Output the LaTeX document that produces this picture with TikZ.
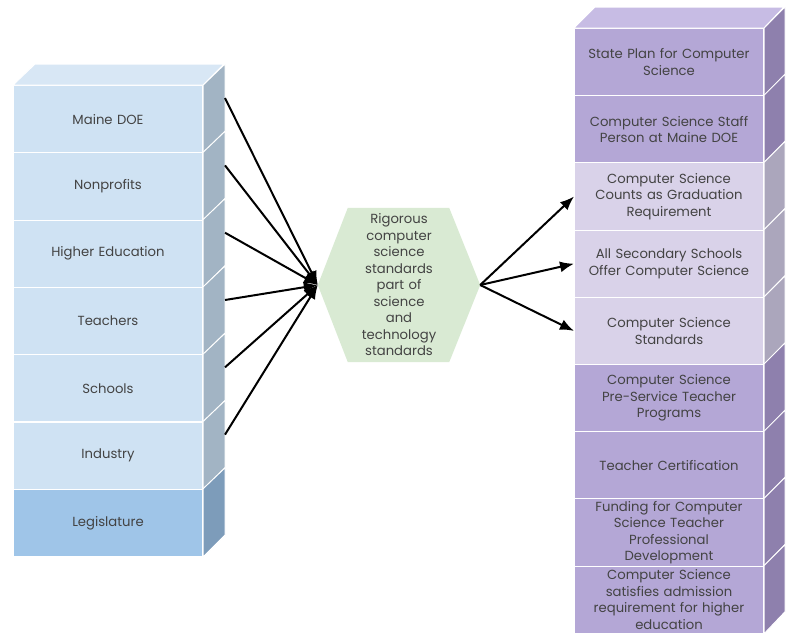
\documentclass[tikz,border=0pt]{standalone}
\usepackage{fontspec}
\setmainfont{Poppins}
\usetikzlibrary{arrows.meta,positioning,calc,backgrounds}
\definecolor{BlueFront}{HTML}{CFE2F3}
\definecolor{BlueSide}{HTML}{A2B4C4}
\definecolor{BlueTop}{HTML}{D8E7F5}
\definecolor{LegFront}{HTML}{9FC5E8}
\definecolor{LegSide}{HTML}{7D9CBA}
\definecolor{PurpleFront}{HTML}{B4A7D6}
\definecolor{PurpleSide}{HTML}{8E80AD}
\definecolor{LilacFront}{HTML}{D9D2E9}
\definecolor{LilacSide}{HTML}{ABA6BC}
\definecolor{PurpleTop}{HTML}{C7BCE4}
\definecolor{HexGreen}{HTML}{D9EAD3}
\definecolor{LabelGray}{HTML}{434343}

\begin{document}
\begin{tikzpicture}[x=1pt, y=-1pt,
    block/.style={draw=white, line width=1pt, minimum width=189pt, minimum height=67.2pt, inner sep=0pt, text width=189pt, align=center, anchor=north west, text=LabelGray, font=\fontsize{13.2}{16.5}\selectfont},
    hextext/.style={minimum width=162pt, minimum height=154pt, inner sep=0pt, text width=110pt, align=center, text=LabelGray, font=\fontsize{13.2}{16.5}\selectfont},
    sideface/.style={draw=white, line width=1pt},
    arr/.style={-{Latex[length=14pt,width=11pt]}, draw=black, line width=2pt}
  ]
    \useasboundingbox (0,0) rectangle (791,633);

    % left stack
    \foreach \txt/\fr/\sd [count=\i] in {Maine DOE/BlueFront/BlueSide, Nonprofits/BlueFront/BlueSide, Higher Education/BlueFront/BlueSide, Teachers/BlueFront/BlueSide, Schools/BlueFront/BlueSide, Industry/BlueFront/BlueSide, Legislature/LegFront/LegSide}{
      \node[block, fill=\fr] (l\i) at (13, {85+67.3*(\i-1)}) {\txt};
      \filldraw[sideface, fill=\sd] (l\i.north east) -- ++(22,-21) -- ++(0,67.3) -- (l\i.south east) -- cycle;
      \coordinate (l\i s) at ($(l\i.east)+(22,-21)$);
    }
    \filldraw[sideface, fill=BlueTop] (l1.north west) -- ++(22,-21) -- ++(189,0) -- (l1.north east) -- cycle;

    % right stack
    \foreach \txt/\fr/\sd [count=\i] in {
        {State Plan for Computer\\Science}/PurpleFront/PurpleSide,
        {Computer Science Staff\\Person at Maine DOE}/PurpleFront/PurpleSide,
        {Computer Science\\Counts as Graduation\\Requirement}/LilacFront/LilacSide,
        {All Secondary Schools\\Offer Computer Science}/LilacFront/LilacSide,
        {Computer Science\\Standards}/LilacFront/LilacSide,
        {Computer Science\\Pre-Service Teacher\\Programs}/PurpleFront/PurpleSide,
        {Teacher Certification}/PurpleFront/PurpleSide,
        {Funding for Computer\\Science Teacher\\Professional\\Development}/PurpleFront/PurpleSide,
        {Computer Science\\satisfies admission\\requirement for higher\\education}/PurpleFront/PurpleSide}{
      \node[block, fill=\fr] (r\i) at (574, {28+67.2*(\i-1)}) {\txt};
      \filldraw[sideface, fill=\sd] (r\i.north east) -- ++(21,-21) -- ++(0,67.2) -- (r\i.south east) -- cycle;
    }
    \filldraw[sideface, fill=PurpleTop] (r1.north west) -- ++(21,-21) -- ++(189,0) -- (r1.north east) -- cycle;

    % hexagon
    \node[hextext] (hex) at (399, 285) {Rigorous\\computer\\science\\standards\\part of\\science\\and\\technology\\standards};
    \begin{scope}[on background layer]
      \fill[HexGreen] (hex.west) -- ($(hex.north west)+(30,0)$) -- ($(hex.north east)+(-31,0)$) -- (hex.east)
        -- ($(hex.south east)+(-31,0)$) -- ($(hex.south west)+(30,0)$) -- cycle;
    \end{scope}

    \foreach \i in {1,...,6}
      \draw[arr] (l\i s) -- (hex.west);
    \foreach \i in {3,4,5}
      \draw[arr] (hex.east) -- (r\i.west);
  \end{tikzpicture}
\end{document}
